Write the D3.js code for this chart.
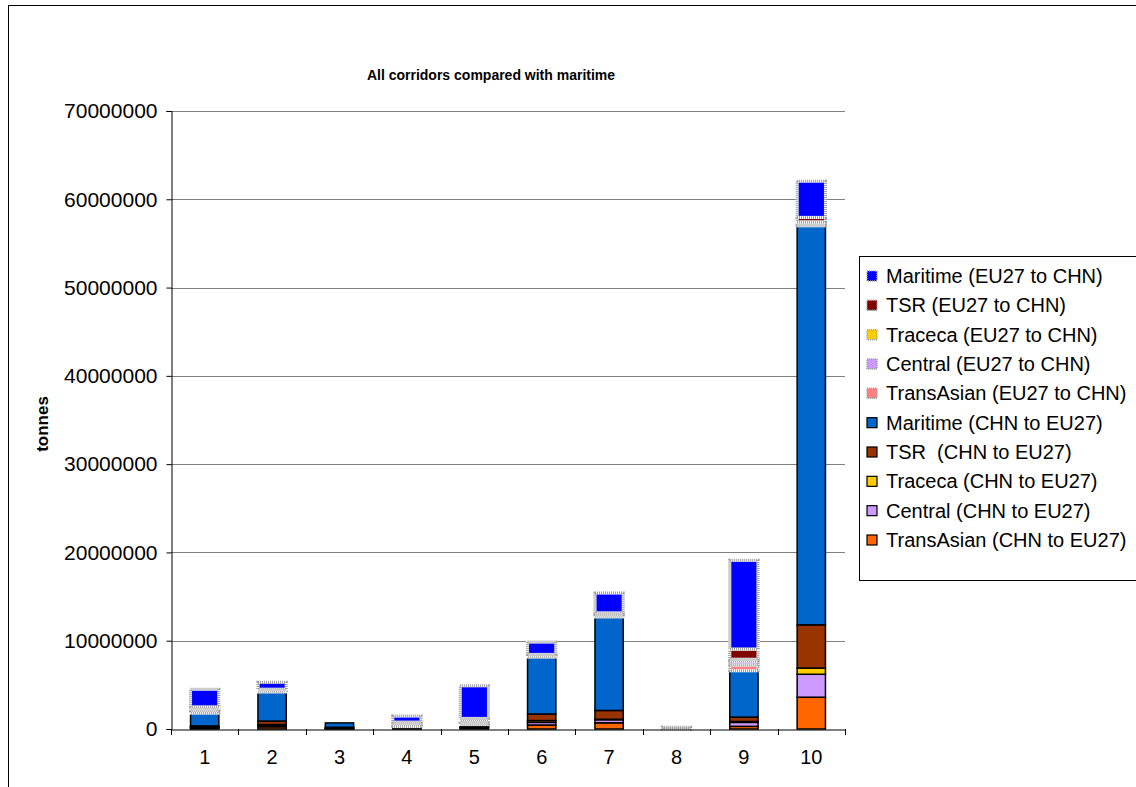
<!DOCTYPE html>
<html><head><meta charset="utf-8">
<script src="https://cdn.jsdelivr.net/npm/d3@7"></script>
<style>
html,body{margin:0;padding:0;background:#fff;}
text{font-family:"Liberation Sans",Arial,sans-serif;}
</style></head>
<body>
<svg id="chart" width="1136" height="787"></svg>
<script>
const categories = ["1","2","3","4","5","6","7","8","9","10"];
// tonnes, stacking order bottom -> top
const transAsianCHN = [100000, 250000, 50000, 50000, 100000, 450000, 700000, 0, 300000, 3600000];
const centralCHN    = [50000, 150000, 20000, 50000, 50000, 300000, 350000, 0, 450000, 2600000];
const tracecaCHN    = [50000, 100000, 20000, 20000, 50000, 200000, 50000, 0, 100000, 700000];
const tsrCHN        = [150000, 400000, 100000, 50000, 100000, 750000, 1000000, 0, 500000, 4900000];
const maritimeCHN   = [1450000, 3300000, 500000, 100000, 200000, 6450000, 10600000, 0, 5250000, 45200000];
const transAsianEU  = [300000, 100000, 0, 200000, 300000, 100000, 100000, 0, 650000, 200000];
const centralEU     = [250000, 100000, 0, 200000, 200000, 50000, 100000, 0, 450000, 200000];
const tracecaEU     = [50000, 50000, 0, 50000, 50000, 50000, 50000, 0, 200000, 50000];
const tsrEU         = [100000, 50000, 0, 50000, 150000, 100000, 200000, 0, 1150000, 500000];
const maritimeEU    = [2000000, 800000, 0, 700000, 3700000, 1400000, 2250000, 200000, 10050000, 4100000];

const yTicks = [0,10000000,20000000,30000000,40000000,50000000,60000000,70000000];

const series = [
  {key:"taC", name:"TransAsian (CHN to EU27)", values:transAsianCHN, color:"#FF6600", eu:false},
  {key:"ceC", name:"Central (CHN to EU27)", values:centralCHN, color:"#CC99FF", eu:false},
  {key:"trC", name:"Traceca (CHN to EU27)", values:tracecaCHN, color:"#FFCC00", eu:false},
  {key:"tsC", name:"TSR  (CHN to EU27)", values:tsrCHN, color:"#993300", eu:false},
  {key:"maC", name:"Maritime (CHN to EU27)", values:maritimeCHN, color:"#0066CC", eu:false},
  {key:"taE", name:"TransAsian (EU27 to CHN)", values:transAsianEU, color:"#FF8080", eu:true},
  {key:"ceE", name:"Central (EU27 to CHN)", values:centralEU, color:"#CC99FF", eu:true},
  {key:"trE", name:"Traceca (EU27 to CHN)", values:tracecaEU, color:"#FFCC00", eu:true},
  {key:"tsE", name:"TSR (EU27 to CHN)", values:tsrEU, color:"#800000", eu:true},
  {key:"maE", name:"Maritime (EU27 to CHN)", values:maritimeEU, color:"#0000FF", eu:true}
];

const table = categories.map((c,i)=>{
  const row = {cat:c};
  series.forEach(s=>row[s.key]=s.values[i]);
  return row;
});
const stacked = d3.stack().keys(series.map(s=>s.key))(table);

const svg = d3.select("#chart");
// outer chart border
svg.append("rect").attr("x",8.5).attr("y",5.5).attr("width",1300).attr("height",900)
  .attr("fill","#fff").attr("stroke","#000").attr("stroke-width",1);

const plotL=171, plotR=845, plotT=111, plotB=729;
const x = d3.scaleBand().domain(categories).range([plotL,plotR]);
const y = d3.scaleLinear().domain([0,70000000]).range([plotB,plotT]);

// gridlines
svg.append("g").selectAll("line").data(yTicks.slice(1)).join("line")
  .attr("x1",plotL).attr("x2",plotR)
  .attr("y1",d=>Math.round(y(d))+0.5).attr("y2",d=>Math.round(y(d))+0.5)
  .attr("stroke","#808080").attr("stroke-width",1);

// bars
const bw = x.bandwidth()*0.42;
stacked.forEach((layer,li)=>{
  const s = series[li];
  const g = svg.append("g");
  const segs = layer.map((d,i)=>({y0:d[0],y1:d[1],cat:categories[i]})).filter(d=>d.y1-d.y0>0);
  const rx = d=>x(d.cat)+(x.bandwidth()-bw)/2;
  if(s.eu){
    g.selectAll("rect.b").data(segs).join("rect").attr("class","b")
      .attr("x",rx).attr("width",bw)
      .attr("y",d=>y(d.y1)).attr("height",d=>Math.max(0,y(d.y0)-y(d.y1)))
      .attr("fill",s.color).attr("stroke","#ffffff").attr("stroke-width",3);
    g.selectAll("rect.d").data(segs).join("rect").attr("class","d")
      .attr("x",rx).attr("width",bw)
      .attr("y",d=>y(d.y1)).attr("height",d=>Math.max(0,y(d.y0)-y(d.y1)))
      .attr("fill","none").attr("stroke","#9a9a9a").attr("stroke-width",3)
      .attr("stroke-dasharray","1 1");
  } else {
    g.selectAll("rect").data(segs).join("rect")
      .attr("x",rx).attr("width",bw)
      .attr("y",d=>y(d.y1)).attr("height",d=>Math.max(0,y(d.y0)-y(d.y1)))
      .attr("fill",s.color).attr("stroke","#000").attr("stroke-width",1.5);
  }
});

// y axis
const yAxis = d3.axisLeft(y).tickValues(yTicks).tickFormat(d3.format("d")).tickSizeOuter(0).tickSize(5).tickPadding(9);
const ya = svg.append("g").attr("transform",`translate(${plotL+0.5},0)`).call(yAxis);
ya.select(".domain").attr("stroke","#000");
ya.selectAll(".tick line").attr("stroke","#000");
ya.selectAll("text").attr("font-size",21).attr("fill","#000")
  .style("font-family","'Liberation Sans',Arial,sans-serif");

// x axis
const xa = svg.append("g").attr("transform",`translate(0,${plotB+0.5})`)
  .call(d3.axisBottom(x).tickSize(0).tickPadding(20).tickSizeOuter(0));
xa.select(".domain").attr("stroke","#000");
xa.selectAll("text").attr("font-size",20).attr("fill","#000")
  .style("font-family","'Liberation Sans',Arial,sans-serif");
// category boundary tick marks
const bounds = d3.range(categories.length+1).map(i=>plotL + x.step()*i);
svg.append("g").selectAll("line").data(bounds).join("line")
  .attr("x1",d=>Math.round(d)+0.5).attr("x2",d=>Math.round(d)+0.5)
  .attr("y1",plotB).attr("y2",plotB+6).attr("stroke","#000");

// title
svg.append("text").attr("x",491).attr("y",80).attr("text-anchor","middle")
  .attr("font-size",14).attr("font-weight","bold")
  .text("All corridors compared with maritime");

// y axis title
svg.append("text").attr("transform","translate(48,424) rotate(-90)")
  .attr("text-anchor","middle").attr("font-size",17).attr("font-weight","bold").text("tonnes");

// legend
const legendItems = series.slice().reverse();
const lg = svg.append("g");
lg.append("rect").attr("x",859.5).attr("y",256.5).attr("width",500).attr("height",324)
  .attr("fill","#fff").attr("stroke","#000");
const rowY = d3.scalePoint().domain(legendItems.map(d=>d.name)).range([276,540]);
const items = lg.selectAll("g.item").data(legendItems).join("g").attr("class","item")
  .attr("transform",d=>`translate(0,${rowY(d.name)})`);
items.append("rect").attr("x",867).attr("y",-5).attr("width",10).attr("height",10)
  .attr("fill",d=>d.color)
  .attr("stroke",d=>d.eu?"#a0a0a0":"#000").attr("stroke-width",d=>d.eu?1.5:1.2)
  .attr("stroke-dasharray",d=>d.eu?"1 1":null);
items.append("text").attr("x",886).attr("y",7).attr("font-size",20)
  .style("white-space","pre").attr("xml:space","preserve").text(d=>d.name);
</script>
</body></html>
